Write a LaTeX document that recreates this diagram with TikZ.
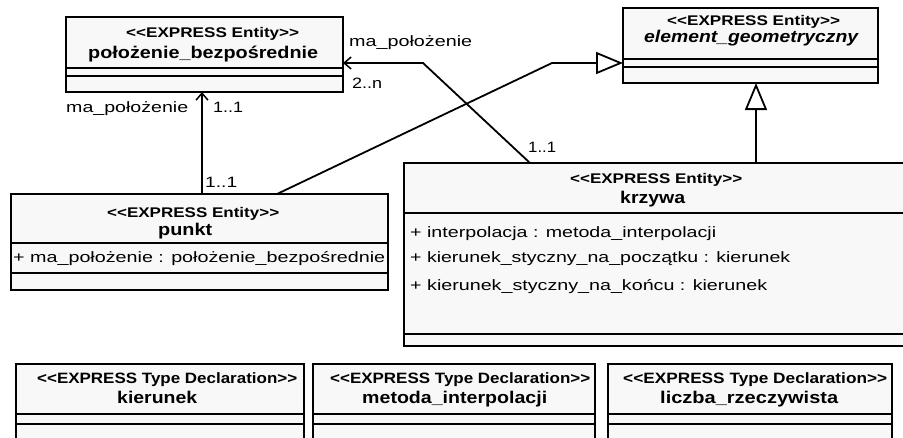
\documentclass[tikz,border=0pt]{standalone}
\usepackage{fontspec}
\setmainfont{Liberation Sans}
\usetikzlibrary{arrows.meta,fit}
\definecolor{boxfill}{RGB}{248,248,248}
% stretch a text horizontally to a given width (in pt), keeping its height
\newcommand{\sw}[2]{\resizebox{#1pt}{\height}{#2}}
% stereotype brackets: the kern keeps the pair from turning into a guillemet
\newcommand{\stl}{<\kern0pt<}
\newcommand{\str}{>\kern0pt>}
% class box: name, x1, y1, x2, y2, first divider y, second divider y
\newcommand{\umlclass}[7]{%
  \coordinate (#1-nw) at (#2,#3);
  \coordinate (#1-se) at (#4,#5);
  \node[umlbox, fit=(#1-nw)(#1-se)] (#1) {};
  \draw[sepline] (#2,#6) -- (#4,#6);
  \draw[sepline] (#2,#7) -- (#4,#7);}
\tikzset{
  umlbox/.style={draw=black, fill=boxfill, line width=1.8pt, inner sep=0pt, outer sep=0pt},
  sepline/.style={line width=1.8pt},
  conn/.style={line width=1.8pt, line join=miter},
  assoc/.style={conn, -{Straight Barb[length=7pt,width=12pt,line width=1.5pt]}},
  gen/.style={conn, -{Triangle[open,length=27pt,width=22pt,line width=1.8pt]}},
  ster/.style={anchor=base west, inner sep=0pt, font=\fontsize{14}{16}\selectfont\bfseries},
  bster/.style={anchor=base west, inner sep=0pt, font=\fontsize{15}{17}\selectfont\bfseries},
  cname/.style={anchor=base west, inner sep=0pt, font=\fontsize{17}{20}\selectfont\bfseries},
  iname/.style={anchor=base west, inner sep=0pt, font=\fontsize{17}{20}\selectfont\bfseries\itshape},
  attr/.style={anchor=base west, inner sep=0pt, font=\fontsize{15}{18}\selectfont},
  lbl/.style={anchor=base west, inner sep=0pt, font=\fontsize{15}{18}\selectfont},
}
\begin{document}
\begin{tikzpicture}[x=1pt,y=-1pt]
\useasboundingbox (0,0) rectangle (903,437);

% classes
\umlclass{pb}{66}{17}{343}{92}{68}{76}
\umlclass{eg}{623}{8}{878}{83}{59}{67}
\umlclass{pk}{11}{194}{388}{290}{243}{273}
\umlclass{kr}{404}{163}{908}{346}{213}{334}
\umlclass{ki}{16}{364}{304}{460}{414}{424}
\umlclass{mi}{313}{364}{595}{460}{414}{424}
\umlclass{lr}{608}{364}{892}{460}{414}{424}

% class texts
\node[ster] (pbs) at (126,37) {\sw{173}{\stl EXPRESS Entity\str}};
\node[cname] (pbn) at (88,58) {\sw{230}{położenie\_bezpośrednie}};
\node[ster] (egs) at (667,25) {\sw{173}{\stl EXPRESS Entity\str}};
\node[iname] (egn) at (644,42) {\sw{214}{element\_geometryczny}};
\node[ster] (pks) at (107,217) {\sw{172}{\stl EXPRESS Entity\str}};
\node[cname] (pkn) at (158,235) {\sw{54}{punkt}};
\node[attr] (pka) at (13,262) {\sw{372}{+ ma\_położenie : położenie\_bezpośrednie}};
\node[ster] (krs) at (570,183) {\sw{172}{\stl EXPRESS Entity\str}};
\node[cname] (krn) at (620,203) {\sw{65}{krzywa}};
\node[attr] (kra1) at (410,237) {\sw{306}{+ interpolacja : metoda\_interpolacji}};
\node[attr] (kra2) at (410,262) {\sw{380}{+ kierunek\_styczny\_na\_początku : kierunek}};
\node[attr] (kra3) at (410,290) {\sw{357}{+ kierunek\_styczny\_na\_końcu : kierunek}};
\node[bster] (kis) at (37,383) {\sw{260}{\stl EXPRESS Type Declaration\str}};
\node[cname] (kin) at (117,403) {\sw{80}{kierunek}};
\node[bster] (mis) at (330,383) {\sw{260}{\stl EXPRESS Type Declaration\str}};
\node[cname] (min) at (362,403) {\sw{185}{metoda\_interpolacji}};
\node[bster] (lrs) at (623,383) {\sw{264}{\stl EXPRESS Type Declaration\str}};
\node[cname] (lrn) at (660,403) {\sw{178}{liczba\_rzeczywista}};

% connector bend points
\coordinate (xa) at (202,0);
\coordinate (xg) at (277,0);
\coordinate (xk) at (530,0);
\coordinate (xv) at (756,0);
\coordinate (bg) at (552,63);
\coordinate (ba) at (423,63);

% associations
\draw[assoc] (pk.north -| xa) -- (pb.south -| xa);
\draw[assoc] (kr.north -| xk) -- (ba) -- (pb.east |- ba);
% generalizations
\draw[gen] (pk.north -| xg) -- (bg) -- (eg.west |- bg);
\draw[gen] (kr.north -| xv) -- (eg.south -| xv);

% role names and multiplicities
\node[lbl] (r1) at (66,112) {\sw{122}{ma\_położenie}};
\node[lbl] (m1) at (213,112) {\sw{30}{1..1}};
\node[lbl] (m2) at (205,187) {\sw{32}{1..1}};
\node[lbl] (r2) at (349,46) {\sw{123}{ma\_położenie}};
\node[lbl] (m3) at (352,88) {\sw{30}{2..n}};
\node[lbl] (m4) at (528,152) {\sw{28}{1..1}};
\end{tikzpicture}
\end{document}
